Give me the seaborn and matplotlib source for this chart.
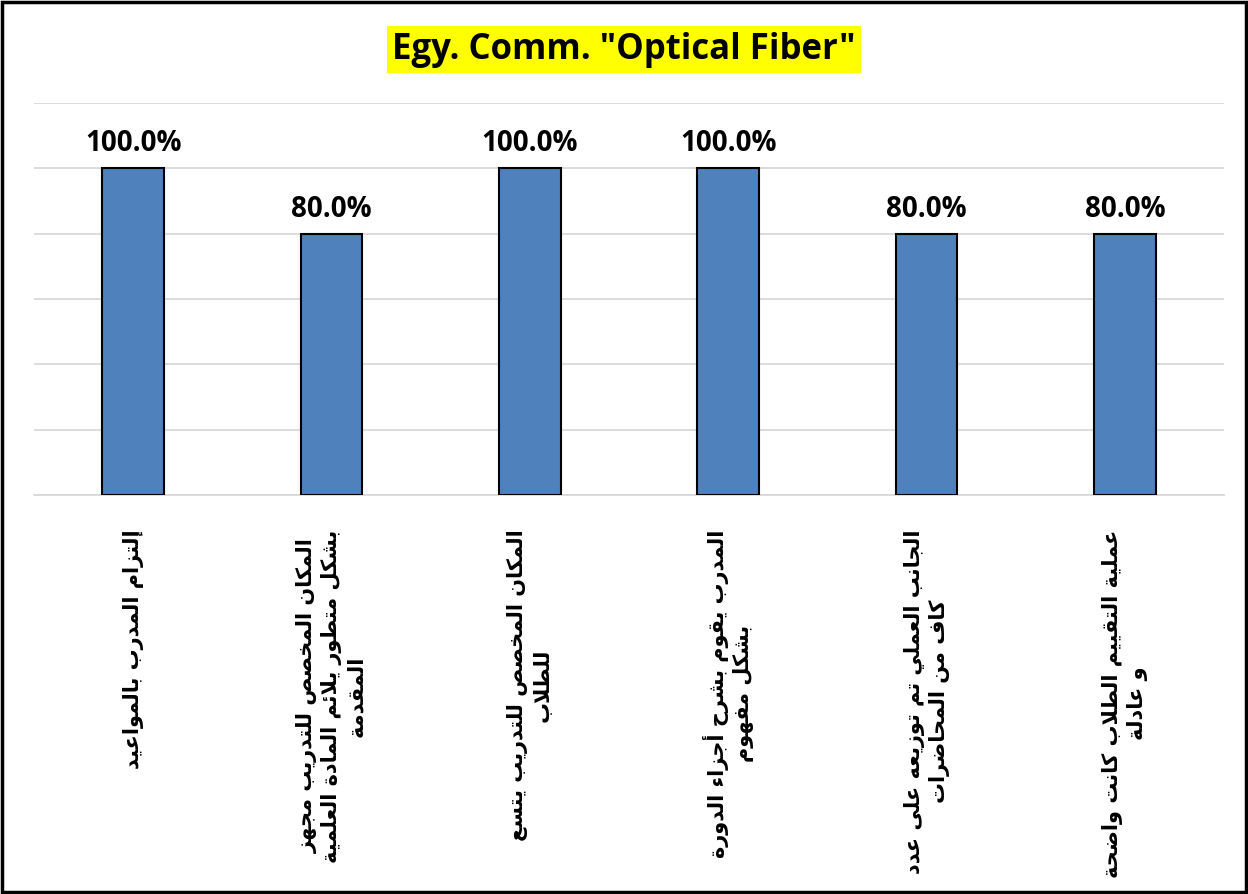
import matplotlib
matplotlib.use("Agg")
import matplotlib.pyplot as plt
import matplotlib.patches as patches
import seaborn as sns

# data
categories = [
    "إلتزام المدرب بالمواعيد",
    "المكان المخصص للتدريب مجهز\nبشكل متطور يلائم المادة العلمية\nالمقدمة",
    "المكان المخصص للتدريب يتسع\nللطلاب",
    "المدرب يقوم بشرح أجزاء الدورة\nبشكل مفهوم",
    "الجانب العملي تم توزيعه على عدد\nكاف من المحاضرات",
    "عملية التقييم الطلاب كانت واضحة\nو عادلة",
]
values = [1.0, 0.8, 1.0, 1.0, 0.8, 0.8]
title = 'Egy. Comm. "Optical Fiber"'

# matplotlib has no arabic shaping, so map letters to presentation forms
letters = "ءآأؤإئابةتثجحخدذرزسشصضطظعغفقكلمنهوىي"
nforms = [1, 2, 2, 2, 2, 4, 2, 4, 2, 4, 4, 4, 4, 4, 2, 2, 2, 2,
          4, 4, 4, 4, 4, 4, 4, 4, 4, 4, 4, 4, 4, 4, 4, 2, 2, 4]
FORMS = {}
code = 0xFE80
for ch, n in zip(letters, nforms):
    FORMS[ch] = [chr(code + k) for k in range(n)]
    code += n
LAMALEF = {"آ": (0xFEF5, 0xFEF6), "أ": (0xFEF7, 0xFEF8),
           "إ": (0xFEF9, 0xFEFA), "ا": (0xFEFB, 0xFEFC)}


def shape_line(text):
    out = []
    prev_joins = False
    i = 0
    while i < len(text):
        c = text[i]
        if c not in FORMS:
            out.append(c)
            prev_joins = False
            i += 1
            continue
        if c == "ل" and i + 1 < len(text) and text[i + 1] in LAMALEF:
            iso, fin = LAMALEF[text[i + 1]]
            out.append(chr(fin if prev_joins else iso))
            prev_joins = False
            i += 2
            continue
        f = FORMS[c]
        nxt = text[i + 1] if i + 1 < len(text) else ""
        joins_next = len(f) == 4 and nxt in FORMS
        if len(f) == 1:
            g = f[0]
        elif prev_joins and joins_next:
            g = f[3]
        elif prev_joins:
            g = f[1]
        elif joins_next:
            g = f[2]
        else:
            g = f[0]
        out.append(g)
        prev_joins = joins_next
        i += 1
    return "".join(reversed(out))


def shape(text):
    return "\n".join(shape_line(l) for l in text.split("\n"))


sns.set_style("white")
plt.rcParams["font.family"] = ["DejaVu Sans"]

fig = plt.figure(figsize=(12.48, 8.95), dpi=100)
ax = fig.add_axes([0.0272, 0.4458, 0.9536, 0.438])

sns.barplot(x=list(range(len(values))), y=values, color="#4F81BD", saturation=1,
            width=0.31, edgecolor="black", linewidth=1.5, ax=ax, zorder=3)

ax.set_ylim(0, 1.2)
ax.set_yticks([0, 0.2, 0.4, 0.6, 0.8, 1.0, 1.2])
ax.set_yticklabels([])
ax.yaxis.grid(True, color="#d9d9d9", linewidth=1.3, zorder=0)
ax.tick_params(axis="both", length=0)
for s in ["top", "left", "right"]:
    ax.spines[s].set_visible(False)
ax.spines["bottom"].set_color("#d9d9d9")
ax.spines["bottom"].set_linewidth(1.3)
ax.set_xlabel("")
ax.set_ylabel("")

ax.set_xticks(range(len(categories)))
ax.set_xticklabels([shape(c) for c in categories], rotation=90, ha="center",
                   va="top", multialignment="center", fontsize=15,
                   fontweight="bold", linespacing=1.25, color="black")
ax.tick_params(axis="x", pad=24)

ax.bar_label(ax.containers[0], labels=[f"{v * 100:.1f}%" for v in values],
             padding=8, fontsize=20, fontweight="bold", family="Open Sans",
             color="black")

fig.text(0.5, 0.944, title, ha="center", va="center", fontsize=25,
         fontweight="bold", family="Open Sans", color="black",
         bbox=dict(facecolor="#FFFF00", edgecolor="none", pad=4))

fig.add_artist(patches.Rectangle((0.002, 0.002), 0.996, 0.995, transform=fig.transFigure,
                                 fill=False, edgecolor="black", linewidth=2.5))

fig.savefig("out.png", dpi=100)
